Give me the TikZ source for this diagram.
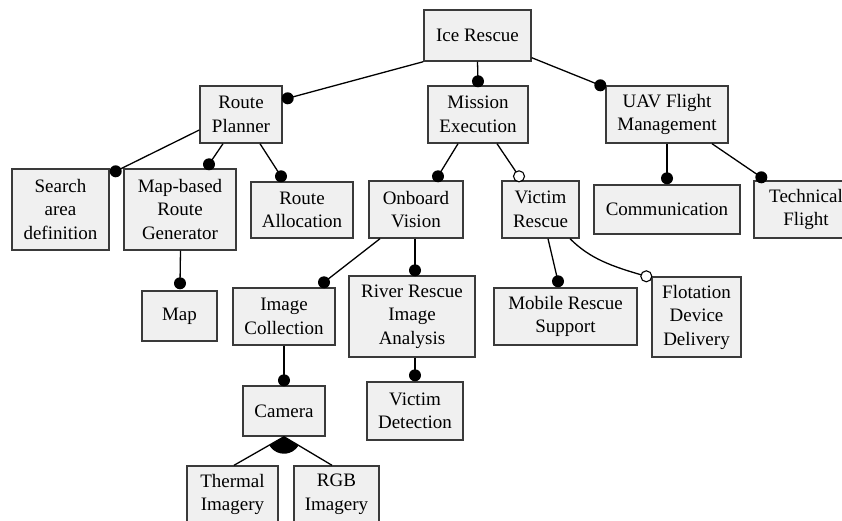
\documentclass[tikz,border=0pt]{standalone}
\usepackage{fontspec}
\setmainfont{Liberation Serif}
\usetikzlibrary{calc}
\definecolor{boxfill}{HTML}{F0F0F0}
\definecolor{boxline}{HTML}{3A3A3A}
\begin{document}
\begin{tikzpicture}[x=1pt,y=-1pt,
  feat/.style={draw=boxline, fill=boxfill, line width=1.4pt, inner sep=0pt,
               align=center, font=\fontsize{19}{23.5}\selectfont},
  link/.style={line width=1.3pt, draw=black},
  mandot/.style={fill=black},
  optdot/.style={fill=white, draw=black, line width=1.1pt}]
\useasboundingbox (0,0) rectangle (842,521);
\clip (0,0) rectangle (842,521);
\fill[white] (0,0) rectangle (842,521);

% ---- features ----
\node[feat, minimum width=107pt, minimum height=51pt] (root) at (477.5,35.5) {Ice Rescue};
\node[feat, minimum width=82pt,  minimum height=57pt] (rp)   at (241,114.5) {Route\\Planner};
\node[feat, minimum width=100pt, minimum height=57pt] (me)   at (478,114.5) {Mission\\Execution};
\node[feat, minimum width=122pt, minimum height=57pt] (uav)  at (667,114.5) {UAV Flight\\Management};
\node[feat, minimum width=97pt,  minimum height=81pt] (sad)  at (60.5,209.5) {Search\\area\\definition};
\node[feat, minimum width=112pt, minimum height=81pt] (mbrg) at (180,209.5) {Map-based\\Route\\Generator};
\node[feat, minimum width=102pt, minimum height=56pt] (ra)   at (302,210) {Route\\Allocation};
\node[feat, minimum width=94pt,  minimum height=57pt] (ov)   at (416,209.5) {Onboard\\Vision};
\node[feat, minimum width=77pt,  minimum height=57pt] (vr)   at (540.5,209.5) {Victim\\Rescue};
\node[feat, minimum width=146pt, minimum height=49pt] (comm) at (667,209.5) {Communication};
\node[feat, minimum width=104pt, minimum height=57pt] (tf)   at (806,209.5) {Technical\\Flight};
\node[feat, minimum width=75pt,  minimum height=50pt] (map)  at (179.5,316) {Map};
\node[feat, minimum width=102pt, minimum height=57pt] (ic)   at (284,316.5) {Image\\Collection};
\node[feat, minimum width=126pt, minimum height=81pt] (rr)   at (412,316.5) {River Rescue\\Image\\Analysis};
\node[feat, minimum width=96pt,  minimum height=58pt] (vd)   at (415,411) {Victim\\Detection};
\node[feat, minimum width=143pt, minimum height=57pt] (mrs)  at (565.5,316.5) {Mobile Rescue\\Support};
\node[feat, minimum width=89pt,  minimum height=80pt] (fdd)  at (696.5,317) {Flotation\\Device\\Delivery};
\node[feat, minimum width=82pt,  minimum height=50pt] (cam)  at (284,411) {Camera};
\node[feat, minimum width=91pt,  minimum height=57pt] (thm)  at (232.5,494.5) {Thermal\\Imagery};
\node[feat, minimum width=85pt,  minimum height=57pt] (rgb)  at (336.5,494.5) {RGB\\Imagery};

% ---- attachment points ----
\coordinate (rp-in)   at ($(rp.north east)+(5,13)$);
\coordinate (me-in)   at ($(me.north)+(0,-4)$);
\coordinate (uav-in)  at ($(uav.north west)+(-5,0)$);
\coordinate (sad-in)  at ($(sad.north east)+(6,3)$);
\coordinate (mbrg-in) at ($(mbrg.north)+(29,-4)$);
\coordinate (ra-in)   at ($(ra.north)+(-21,-5)$);
\coordinate (ov-in)   at ($(ov.north)+(22,-4)$);
\coordinate (vr-in)   at ($(vr.north)+(-21.5,-4)$);
\coordinate (comm-in) at ($(comm.north)+(0,-6)$);
\coordinate (tf-in)   at ($(tf.north west)+(8,-3)$);
\coordinate (map-in)  at ($(map.north)+(0.5,-7)$);
\coordinate (ic-in)   at ($(ic.north)+(40,-5)$);
\coordinate (rr-in)   at ($(rr.north)+(3,-5)$);
\coordinate (mrs-in)  at ($(mrs.north)+(-7.5,-6)$);
\coordinate (fdd-in)  at ($(fdd.north west)+(-5,0)$);
\coordinate (cam-in)  at ($(cam.north)+(0,-5)$);
\coordinate (vd-in)   at ($(vd.north)+(0,-6)$);
\coordinate (thm-in)  at ($(thm.north)+(1.5,0)$);
\coordinate (rgb-in)  at ($(rgb.north)+(-4.5,0)$);

% ---- connectors ----
\draw[link] (root.south west) -- (rp-in);
\draw[link] (root.south) -- (me-in);
\draw[link] ($(root.south east)+(0,-4)$) -- (uav-in);
\draw[link] ($(rp.west)+(0,15.5)$) -- (sad-in);
\draw[link] ($(rp.south)+(-18,0)$) -- (mbrg-in);
\draw[link] ($(rp.south)+(19,0)$) -- (ra-in);
\draw[link] ($(me.south)+(-20,0)$) -- (ov-in);
\draw[link] ($(me.south)+(19,0)$) -- (vr-in);
\draw[link] (uav.south) -- (comm-in);
\draw[link] ($(uav.south)+(45,0)$) -- (tf-in);
\draw[link] ($(mbrg.south)+(0.5,0)$) -- (map-in);
\draw[link] ($(ov.south)+(-36,0)$) -- (ic-in);
\draw[link] ($(ov.south)+(-1,0)$) -- (rr-in);
\draw[link] ($(vr.south)+(7.5,0)$) -- (mrs-in);
\coordinate (vr-out) at ($(vr.south)+(29.5,0)$);
\coordinate (fc1) at ($(vr-out)+(20,20)$);
\coordinate (fc2) at ($(fdd-in)+(-35,-10)$);
\draw[link] (vr-out) .. controls (fc1) and (fc2) .. (fdd-in);
\draw[link] (ic.south) -- (cam-in);
\draw[link] ($(rr.south)+(3,0)$) -- (vd-in);
\draw[link] (cam.south) -- (thm-in);
\draw[link] (cam.south) -- (rgb-in);

% alternative group marker below Camera
\fill (cam.south) -- ++(211:17pt) arc[start angle=211, end angle=328, radius=17pt] -- cycle;

% ---- mandatory / optional markers ----
\foreach \p in {rp-in, me-in, uav-in, sad-in, mbrg-in, ra-in, ov-in, comm-in,
                tf-in, map-in, ic-in, rr-in, mrs-in, cam-in, vd-in}
  \fill[mandot] (\p) circle[radius=6pt];
\foreach \p in {vr-in, fdd-in}
  \filldraw[optdot] (\p) circle[radius=5.5pt];
\end{tikzpicture}
\end{document}
